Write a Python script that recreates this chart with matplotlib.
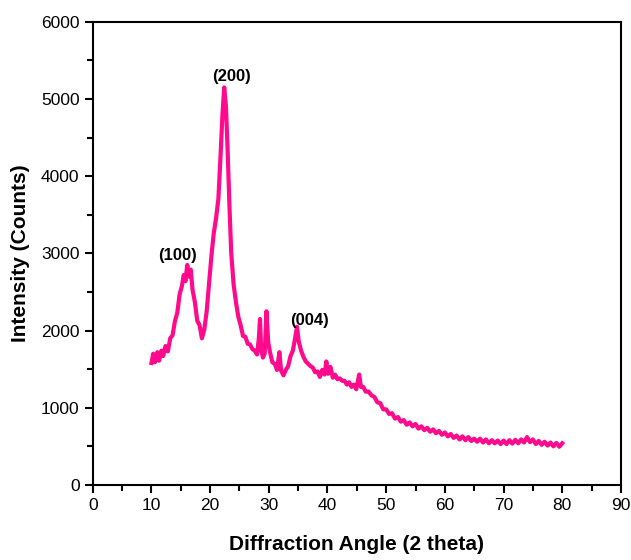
import matplotlib
matplotlib.use('Agg')
import matplotlib.pyplot as plt
from matplotlib.ticker import MultipleLocator

plt.rcParams['font.family'] = ['Liberation Sans', 'DejaVu Sans']

# XRD pattern
two_theta = [10.0, 10.3, 10.6, 11.0, 11.3, 11.7, 12.0, 12.4, 12.8, 13.2, 13.6, 14.0, 14.4, 14.8,
             15.2, 15.5, 15.8, 16.1, 16.4, 16.7, 17.0, 17.4, 17.8, 18.2, 18.6, 19.0, 19.4, 19.8,
             20.2, 20.6, 21.0, 21.4, 21.8, 22.1, 22.4, 22.7, 23.0, 23.3, 23.6, 24.0, 24.4, 24.8,
             25.2, 25.6, 26.0, 26.4, 26.8, 27.2, 27.6, 28.0, 28.3, 28.5, 28.7, 29.0, 29.3, 29.6,
             29.9, 30.2, 30.6, 31.0, 31.4, 31.8, 32.1, 32.5, 32.9, 33.3, 33.7, 34.1, 34.5, 34.8,
             35.1, 35.5, 35.9, 36.3, 36.7, 37.1, 37.5, 37.9, 38.3, 38.7, 39.1, 39.5, 39.8, 40.1,
             40.5, 40.9, 41.3, 41.7, 42.1, 42.5, 42.9, 43.3, 43.7, 44.1, 44.5, 44.9, 45.4, 45.7,
             46.1, 46.5, 47.0, 47.5, 48.0, 48.5, 49.0, 49.5,
             50.0, 50.5, 51.0, 51.5, 52.0, 52.5, 53.0, 53.5, 54.0, 54.5, 55.0, 55.5, 56.0, 56.5,
             57.0, 57.5, 58.0, 58.5, 59.0, 59.5, 60.0, 60.5, 61.0, 61.5, 62.0, 62.5, 63.0, 63.5,
             64.0, 64.5, 65.0, 65.5, 66.0, 66.5, 67.0, 67.5, 68.0, 68.5, 69.0, 69.5, 70.0, 70.5,
             71.0, 71.5, 72.0, 72.5, 73.0, 73.5, 74.0, 74.5, 75.0, 75.5, 76.0, 76.5, 77.0, 77.5,
             78.0, 78.5, 79.0, 79.5, 80.0]
intensity = [1580, 1700, 1590, 1720, 1610, 1740, 1670, 1800, 1730, 1900, 1940, 2120, 2230, 2470,
             2580, 2720, 2640, 2850, 2700, 2790, 2530, 2370, 2130, 2070, 1900, 2010, 2240, 2600,
             2950, 3250, 3450, 3700, 4300, 4800, 5150, 4900, 4300, 3600, 3000, 2600, 2370, 2180,
             2070, 1930, 1920, 1830, 1820, 1760, 1740, 1690, 1900, 2150, 1750, 1650, 1700, 2250,
             1850, 1720, 1590, 1570, 1490, 1720, 1480, 1420, 1490, 1540, 1670, 1740, 1910, 2050,
             1860, 1740, 1660, 1600, 1570, 1540, 1520, 1460, 1470, 1400, 1490, 1430, 1600, 1440,
             1530, 1390, 1430, 1370, 1380, 1350, 1350, 1300, 1330, 1270, 1300, 1240, 1430, 1270,
             1270, 1210, 1210, 1160, 1140, 1070, 1060, 980,
             980, 920, 930, 860, 880, 820, 840, 780, 810, 760, 790, 730, 760, 710,
             740, 690, 720, 670, 700, 650, 680, 630, 660, 610, 640, 590, 630, 580,
             620, 570, 600, 560, 600, 550, 590, 540, 580, 540, 575, 530, 575, 530,
             580, 535, 585, 540, 590, 550, 620, 555, 590, 530, 570, 520, 560, 510,
             550, 500, 545, 495, 540]

peak_labels = ['(100)', '(200)', '(004)']
peak_x = [14.5, 23.6, 36.9]
peak_y = [2970, 5290, 2130]

fig = plt.figure(figsize=(6.31, 5.6), dpi=100)
ax = fig.add_axes([0.147, 0.134, 0.837, 0.827])

ax.plot(two_theta, intensity, color='#ff0a8c', linewidth=3.0)

for lab, x, y in zip(peak_labels, peak_x, peak_y):
    ax.text(x, y, lab, ha='center', va='center', fontsize=12, fontweight='bold')

ax.set_xlim(0, 90)
ax.set_ylim(0, 6000)
ax.xaxis.set_major_locator(MultipleLocator(10))
ax.xaxis.set_minor_locator(MultipleLocator(5))
ax.yaxis.set_major_locator(MultipleLocator(1000))
ax.yaxis.set_minor_locator(MultipleLocator(500))
ax.tick_params(which='major', direction='out', length=6, width=1.5, labelsize=12.5)
ax.tick_params(which='minor', direction='out', length=4, width=1.5)
for s in ax.spines.values():
    s.set_linewidth(1.5)

ax.set_xlabel('Diffraction Angle (2 theta)', fontsize=15, fontweight='bold', labelpad=16)
ax.set_ylabel('Intensity (Counts)', fontsize=15, fontweight='bold', labelpad=8)

fig.savefig('out.png', dpi=100)
